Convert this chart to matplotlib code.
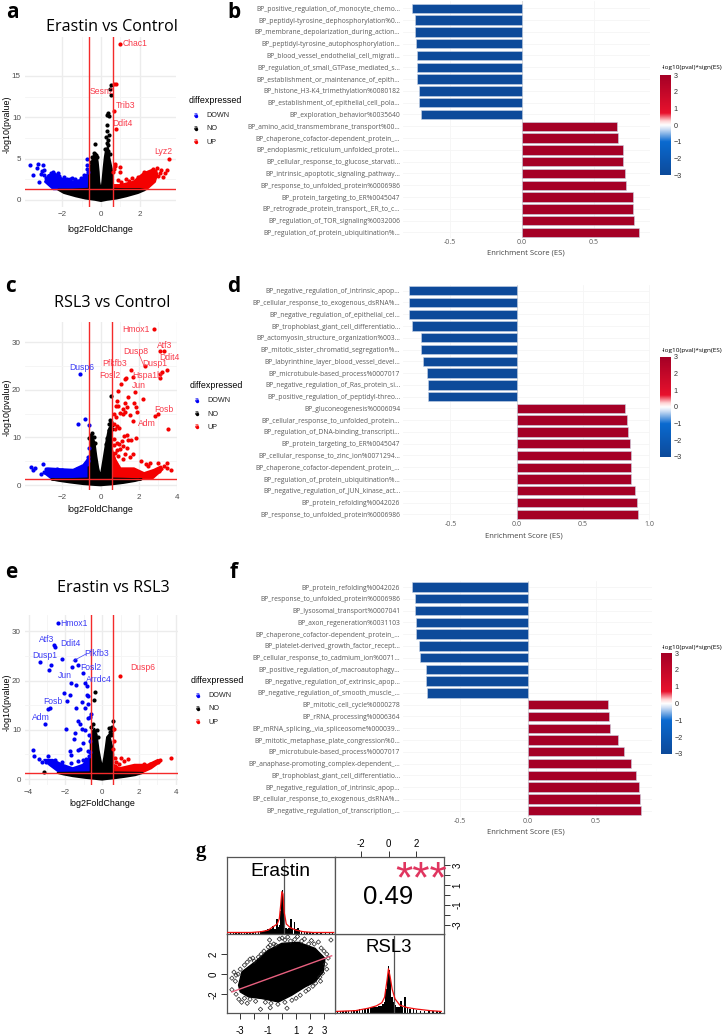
import matplotlib
matplotlib.use("Agg")
import matplotlib.pyplot as plt
from matplotlib.colors import LinearSegmentedColormap, Normalize
import numpy as np

W, H = 724, 1035
RED = "#f42a2a"

# dense point clouds are given as outlines, sparse points one by one
a_no_x = [-2.2,-1.5,-.62,-.6,-.5,-.42,-.35,-.25,-.17,-.12,-.09,-.04,0,.05,.09,.14,.2,.27,.36,.42,.5,.58,.6,.6,1.2,2,2.25,1.9,1.3,.8,.3,0,-.3,-.8,-1.3,-1.9]
a_no_y = [1.25,1.25,1.35,3.2,4.3,5,5.5,5.6,4.6,3.4,2.2,1.6,1.5,1.7,2.6,3.9,5.2,6.2,6.3,5.2,4.3,3.4,2.6,1.35,1.3,1.3,1.2,.85,.45,.18,.02,-.12,.02,.18,.45,.85]
a_down_x = [-2.44,-2.87,-2.7,-2.36,-2.02,-1.59,-1.08,-.65,-.6]
a_down_y = [1.3,2.2,3,3.2,2.6,2.2,2.4,3.2,1.3]
a_up_x = [.6,.6,.97,1.66,2.17,2.68,2.89,2.77,2.34]
a_up_y = [1.3,1.8,1.8,2.2,3.2,3.7,3.2,2.2,1.3]
a_no_pts_x = [-.32,.5,.46,.5,.29,.36,.41,.29,.32,.41,.36,.3,.38,.25,.22,.34,.45,-.38,-.45,-.52,-.2,-.28]
a_no_pts_y = [6.8,13.9,13.4,12.7,10.3,10.5,10.2,9.1,8.3,7.9,7.2,6.9,6.6,7.6,6.2,5.9,5.6,5.7,5.2,4.6,5.2,5.4]
a_down_pts_x = [-3.64,-3.21,-2.96,-3.3,-3.5,-3.16,-2.9,-2.44,-2.19,-1.5,-.74,-.7,-.65,-3.05,-2.95,-2.55,-2.15,-1.75,-1.35,-1.05,-.85,-.7,-3.1,-2.8,-1.9,-1.6]
a_down_pts_y = [4.25,4.3,4.25,3.9,3,2.15,3.6,3.4,3.3,2.7,4.9,4.25,3.4,3.5,3,3.3,2.9,2.5,2.5,2.7,3,3.7,3.1,2.6,2.75,2.5]
a_up_pts_x = [.97,.68,.75,.66,.77,3.5,.72,.97,.72,.65,.97,.62,.88,2.9,2.65,3.1,3.3,3.05,3.4,2.75,2.5,2.3,2.2,2.95,3.2,1.3,1.6,1.05,1.9,2.05,1.45]
a_up_pts_y = [18.8,14,14,10.8,8.6,5,4.4,4,4.1,3.8,3.4,3.4,2.4,3.9,3.8,3.6,3.2,3.3,3.6,3.5,3.4,3.2,3.4,2.9,2.8,2.5,2.6,2.2,2.8,2.5,2.3]

c_no_x = [-2.57,-1.5,-.62,-.62,-.52,-.55,-.46,-.32,-.22,-.12,-.04,0,.04,.12,.22,.3,.42,.55,.6,.6,1.2,2.15,1.8,1.2,.6,.2,0,-.3,-.9,-1.6,-2.2]
c_no_y = [1.2,1.25,1.35,5,7,9.5,10.4,9,6,3.5,2.2,2,2.6,4.5,7,9,11.5,12.5,10,1.35,1.3,1.2,.85,.45,.15,.02,-.05,.02,.2,.55,.9]
c_down_x = [-2.57,-2.93,-2.75,-1.96,-1.43,-.9,-.63,-.6]
c_down_y = [1.4,2.5,3.5,3.3,3.2,4.2,5.6,1.4]
c_up_x = [.6,.6,.78,1.04,1.75,2.28,2.8,3.16,3.25,2.72]
c_up_y = [1.4,7.4,5.3,3.5,3.5,2.5,3.2,3.9,3.3,1.4]
c_no_pts_x = [.53,.5,.55,.45,.6,.58,-.45,-.5,.48,.42,.52,-.58,-.36,-.3,-.4,.35,.28]
c_no_pts_y = [18.8,13.7,13.2,12.9,12.6,11.8,10.9,10.6,12.1,11.5,11.2,9.8,10.2,8.8,8.4,9.8,8.6]
c_down_pts_x = [-1.05,-.79,-1.19,-.61,-.58,-.66,-3.65,-3.42,-3.55,-3,-3.1,-2.85,-2.6,-2.3,-2,-1.55,-1.25,-.85,-.7,-.65,-2.95,-2.75,-.75,-.68]
c_down_pts_y = [23.3,13.9,12.8,12.6,7.8,5.3,3.7,3.5,3.2,4.4,2.3,3.4,3.2,3.3,3.2,3,3.3,3.9,4.5,5,2.8,2.9,4.7,5.9]
c_up_pts_x = [2.79,3.12,3.33,3.46,3.2,3.12,3.12,2.33,1.6,1.32,1.27,1.7,1.09,1.82,.93,1.46,2.23,.88,.82,.92,1.26,1.75,1.18,1.37,1.3,1,1.84,1.9,2.86,3.03,1.53,1.18,.7,.8,3.54,1.7,.7,.85,.95,.75,1.4,1.25,1.45,1.1,.95,1.6,1.85,1.15,1.4,.85,1.3,1.7,1.55,2.1,2.4,2.6,3,3.5,3.3,2.5,3.7,3.5,3.05,2.8,.72,.85,1.0,.68,.78,.9,1.2]
c_up_pts_y = [32.8,28.2,28.2,24.3,23.8,23.3,22.6,25,24.3,22.6,22.3,22.8,21.2,19.6,19.8,18.6,18,17.7,16.7,16.7,17.2,17.2,16,16.4,15.4,15.1,16.4,15.3,14.6,14.9,14.7,14.9,14.9,14.4,11.8,13.5,12.8,12.4,12,11.7,10.6,10.3,9.4,9.2,8.7,9.4,9.9,8.2,7.8,7.4,6.6,6.6,5.8,5,4.4,4.6,4.7,4.7,4,4.1,3.2,3.5,3,3,9.6,8.9,7.6,8.4,6.7,6.1,5.4]

e_no_x = [-2.42,-1.5,-.62,-.62,-.55,-.42,-.3,-.2,-.1,-.04,0,.05,.12,.2,.27,.38,.48,.58,.6,.6,1.5,2.2,1.8,1.2,.6,.2,0,-.3,-.9,-1.6,-2.1]
e_no_y = [1.25,1.3,1.35,8,9.5,10.2,9,6,4,3,2.6,3,4.5,6.5,8.5,9,7.5,6,5,1.35,1.3,1.25,.8,.45,.15,0,-.1,.02,.25,.6,.95]
e_down_x = [-2.33,-2.87,-3.15,-2.69,-2.15,-1.6,-1.05,-.6,-.6]
e_down_y = [1.4,2.9,3.9,3.9,2.9,2.2,2.9,4.6,1.4]
e_up_x = [.6,.6,.95,1.76,2.49,3.04,3.15,2.67,2.2]
e_up_y = [1.4,2.9,2.2,2.9,2.9,3.9,3.5,2.2,1.4]
e_no_pts_x = [-.4,-.44,.6,.55,.37,.46,.55,.5,-.5,-.58,-3.18,.42,.5,-.3,-.2]
e_no_pts_y = [17.6,16,11.8,10.6,10.4,9.2,9.9,10.3,11.2,10.6,1.4,9.6,8.9,10,8.6]
e_down_pts_x = [-2.4,-2.6,-2.55,-2.18,-1.5,-3.38,-2.76,-2.9,-1.64,-1.33,-1.04,-1.69,-1.45,-.95,-.82,-2.09,-1.76,-.85,-.78,-1.9,-1.07,-.78,-1.45,-.91,-2.85,-2.95,-3.09,-1.33,-1.18,-.64,-.6,-.76,-1.95,-1.49,-1.09,-.91,-1.51,-1.04,-1.73,-1.69,-1.33,-1.18,-1.05,-.78,-3.78,-3.69,-3.45,-2.95,-3.25,-3.05,-2.8,-2.55,-2.2,-1.7,-1.3,-.9,-.7,-.64,-.7,-.65]
e_down_pts_y = [31.7,27.3,26.8,24.4,24.1,23.8,23.2,22.2,22.8,23.2,21.6,19.5,19,19.4,18.8,17.5,17.1,17.1,16.8,15.8,15.6,15.2,14.4,14.4,14.4,14.3,11.2,11.8,11.2,12.7,13.2,12.4,10.2,9.4,10.1,9.9,8.1,7.4,5.6,4.8,6,6.2,3.9,5.6,5.9,4.7,4,4.7,3.4,3.5,3.6,3.8,3.4,3.2,3.6,4,4.6,5.4,9,7.8]
e_up_pts_x = [.95,3.76,3.15,.72,1,1.42,1.18,.72,.65,.62,.6,.75,.9,3.05,2.85,2.6,2.3]
e_up_pts_y = [20.9,4.3,3.9,4.2,4.2,4,3.6,2.6,10.1,7.8,6.2,3.4,3.1,3.4,3.2,3.1,3]

labels_b = ["BP_positive_regulation_of_monocyte_chemo...","BP_peptidyl-tyrosine_dephosphorylation%0...","BP_membrane_depolarization_during_action...","BP_peptidyl-tyrosine_autophosphorylation...","BP_blood_vessel_endothelial_cell_migrati...","BP_regulation_of_small_GTPase_mediated_s...","BP_establishment_or_maintenance_of_epith...","BP_histone_H3-K4_trimethylation%0080182","BP_establishment_of_epithelial_cell_pola...","BP_exploration_behavior%0035640","BP_amino_acid_transmembrane_transport%00...","BP_chaperone_cofactor-dependent_protein_...","BP_endoplasmic_reticulum_unfolded_protei...","BP_cellular_response_to_glucose_starvati...","BP_intrinsic_apoptotic_signaling_pathway...","BP_response_to_unfolded_protein%0006986","BP_protein_targeting_to_ER%0045047","BP_retrograde_protein_transport,_ER_to_c...","BP_regulation_of_TOR_signaling%0032006","BP_regulation_of_protein_ubiquitination%..."]
es_b = [-.765,-.749,-.744,-.737,-.735,-.735,-.73,-.719,-.719,-.705,.665,.672,.702,.707,.721,.728,.772,.774,.781,.816]
labels_d = ["BP_negative_regulation_of_intrinsic_apop...","BP_cellular_response_to_exogenous_dsRNA%...","BP_negative_regulation_of_epithelial_cel...","BP_trophoblast_giant_cell_differentiatio...","BP_actomyosin_structure_organization%003...","BP_mitotic_sister_chromatid_segregation%...","BP_labyrinthine_layer_blood_vessel_devel...","BP_microtubule-based_process%0007017","BP_negative_regulation_of_Ras_protein_si...","BP_positive_regulation_of_peptidyl-threo...","BP_gluconeogenesis%0006094","BP_cellular_response_to_unfolded_protein...","BP_regulation_of_DNA-binding_transcripti...","BP_protein_targeting_to_ER%0045047","BP_cellular_response_to_zinc_ion%0071294...","BP_chaperone_cofactor-dependent_protein_...","BP_regulation_of_protein_ubiquitination%...","BP_negative_regulation_of_JUN_kinase_act...","BP_protein_refolding%0042026","BP_response_to_unfolded_protein%0006986"]
es_d = [-.809,-.809,-.809,-.791,-.724,-.724,-.706,-.678,-.671,-.671,.819,.834,.837,.852,.859,.864,.864,.894,.905,.917]
labels_f = ["BP_protein_refolding%0042026","BP_response_to_unfolded_protein%0006986","BP_lysosomal_transport%0007041","BP_axon_regeneration%0031103","BP_chaperone_cofactor-dependent_protein_...","BP_platelet-derived_growth_factor_recept...","BP_cellular_response_to_cadmium_ion%0071...","BP_positive_regulation_of_macroautophagy...","BP_negative_regulation_of_extrinsic_apop...","BP_negative_regulation_of_smooth_muscle_...","BP_mitotic_cell_cycle%0000278","BP_rRNA_processing%0006364","BP_mRNA_splicing,_via_spliceosome%000039...","BP_mitotic_metaphase_plate_congression%0...","BP_microtubule-based_process%0007017","BP_anaphase-promoting_complex-dependent_...","BP_trophoblast_giant_cell_differentiatio...","BP_negative_regulation_of_intrinsic_apop...","BP_cellular_response_to_exogenous_dsRNA%...","BP_negative_regulation_of_transcription_..."]
es_f = [-.85,-.83,-.828,-.826,-.826,-.803,-.794,-.752,-.752,-.744,.587,.597,.604,.663,.705,.759,.794,.816,.826,.83]
score_colors = [-3]*10 + [3]*10

cloud_x = [-3.12,-2.88,-1.93,-.98,-.02,1.17,2.36,3.07,2.95,2.36,1.64,.69,-.26,-1.45,-2.4,-3]
cloud_y = [-1.1,.23,1.23,2.4,3.07,3.17,2.57,1.57,.23,-.77,-1.27,-2.1,-2.77,-2.43,-2.27,-1.77]
edge_x = [-3.6,-3.45,-3.3,-3.15,-3.35,-3.6,-3.3,-3.1,-2.9,-2.7,-3,-2.7,-2.5,-2.3,-2.1,-2,-1.7,-1.5,-1.3,-1,-.85,-.9,-.6,-.45,-.2,0,.2,.4,.6,.9,1.1,1.4,1.6,1.9,2.1,2.3,2.6,2.8,3,3.2,3.5,3.3,3.1,3.2,2.9,2.7,2.75,2.4,2.2,1.9,1.7,1.3,1,.7,.35,.2,-.3,-.85,-1.55,-.8,-1.2,-1.9,-2.3,-2.5]
edge_y = [-.4,.2,-.1,0,-.7,-1.55,-2,-2.5,-2.8,-2.4,.5,.9,1.2,1.5,1.6,1.3,1.7,2,2.3,2.7,2.9,3.4,3,2.9,3.5,3.6,3.4,3.7,3.3,3.45,3.75,3.3,3.5,3,3.35,3,3.2,2.6,2.3,2,3.4,1.6,1,.5,.1,-.3,-.7,-.9,-1.2,-1.5,-1.7,-2.1,-2.4,-2.6,-3.4,-2.8,-3,-3.35,-3.5,-2.9,-2.8,-2.7,-2.5,-2.9]
fit_x = [-3.6,3.55]
fit_y = [-1.77,1.83]

erastin_bins = [-3.7,-3.5,-3.3,-3.1,-2.9,-2.7,-2.5,-2.3,-2.1,-1.9,-1.7,-1.5,-1.4,-1.3,-1.2,-1.1,-1,-.9,-.8,-.64,-.5,-.38,-.28,-.2,-.12,-.05,.02,.1,.18,.28,.4,.5,.62,.75,.88,1,1.12,1.25,1.4,1.6,1.8,2,2.2,2.5,2.8,3.1,3.4,3.6]
erastin_hist = [.025,.025,.02,.02,.02,.02,.02,.02,.02,.025,.03,.035,.04,.04,.05,.05,.06,.06,.06,.11,.07,.2,.09,.12,.3,.5,.57,.42,.18,.08,.07,.08,.2,.08,.15,.06,.08,.05,.04,.03,.03,.025,.02,.02,.02,.02,.025,.025]
erastin_line_x = [-3.9,-2.2,-1.5,-1,-.6,-.35,-.2,-.1,-.02,.06,.15,.3,.6,1,1.5,2.2,3.7]
erastin_line_y = [.02,.02,.03,.05,.1,.13,.2,.38,.55,.52,.28,.13,.08,.05,.03,.02,.02]
erastin_spike_x = .12
rsl3_bins = [-3.7,-3.5,-3.3,-3.1,-2.9,-2.7,-2.5,-2.3,-2.1,-1.9,-1.7,-1.5,-1.3,-1.15,-1,-.85,-.7,-.55,-.42,-.3,-.2,-.1,-.02,.06,.14,.24,.35,.48,.6,.75,.87,1,1.18,1.35,1.55,1.8,2,2.3,2.6,2.9,3.2,3.5,3.7]
rsl3_hist = [.02,.03,.02,.02,.02,.03,.035,.04,.045,.05,.055,.06,.07,.08,.08,.08,.09,.09,.12,.14,.31,.48,.6,.55,.42,.2,.14,.1,.08,.08,.15,.07,.2,.06,.05,.05,.04,.03,.03,.025,.02,.03,.02]
rsl3_line_x = [-3.8,-2.4,-1.5,-.9,-.5,-.3,-.12,-.02,.1,.25,.45,.8,1.3,2,3,3.8]
rsl3_line_y = [.02,.03,.06,.09,.13,.2,.42,.56,.46,.3,.18,.1,.07,.05,.03,.02]
rsl3_spike_x = .38

plt.rcParams["font.family"] = "Liberation Sans"
fig = plt.figure(figsize=(W / 100, H / 100), dpi=100, facecolor="white")

cmap = LinearSegmentedColormap.from_list("es", [(0, "#0d4a9a"), (1/3, "#0a6ad0"), (.46, "#d0e0f5"), (.5, "#ffffff"),
                                                (.54, "#ffd5d5"), (.62, "#e8122d"), (1, "#a50026")])
norm = Normalize(-3, 3)


def px_axes(left, top, right, bottom, **kw):
    return fig.add_axes([left / W, 1 - bottom / H, (right - left) / W, (bottom - top) / H], **kw)


def volcano(box, xlim, ylim, xticks, yticks, no, down, up, no_pts, down_pts, up_pts):
    ax = px_axes(*box)
    ax.set_xlim(*xlim)
    ax.set_ylim(*ylim)
    ax.set_xticks(xticks)
    ax.set_yticks(yticks)
    ax.set_xticks([t + (xticks[1] - xticks[0]) / 2 for t in xticks[:-1]], minor=True)
    ax.set_yticks([t + (yticks[1] - yticks[0]) / 2 for t in yticks[:-1]], minor=True)
    ax.grid(True, which="major", color="#ececec", lw=1.0)
    ax.grid(True, which="minor", color="#f4f4f4", lw=.6)
    ax.set_axisbelow(True)
    ax.tick_params(which="both", length=0, labelsize=5.8, labelcolor="#4d4d4d", pad=3)
    for s in ax.spines.values():
        s.set_visible(False)
    # blue and red first: the black band lies over their lower edge
    for (px, py), c in zip((down, up, no), ("#0000f5", "#f40000", "black")):
        ax.fill(px, py, color=c, lw=1.5, joinstyle="round", zorder=2)
    for (px, py), c in zip((no_pts, down_pts, up_pts), ("black", "#0000f5", "#f40000")):
        ax.scatter(px, py, s=9, color=c, lw=0, zorder=3)
    ax.axvline(-.6, color=RED, lw=1, zorder=4)
    ax.axvline(.6, color=RED, lw=1, zorder=4)
    ax.axhline(1.3, color=RED, lw=1, zorder=4)
    return ax


volcano((25, 37, 176, 207), (-3.9, 3.85), (-.85, 19.7), [-2, 0, 2], [0, 5, 10, 15],
        (a_no_x, a_no_y), (a_down_x, a_down_y), (a_up_x, a_up_y),
        (a_no_pts_x, a_no_pts_y), (a_down_pts_x, a_down_pts_y), (a_up_pts_x, a_up_pts_y))
volcano((25, 322, 177, 490), (-3.95, 4.0), (-1.05, 34.3), [-2, 0, 2, 4], [0, 10, 20, 30],
        (c_no_x, c_no_y), (c_down_x, c_down_y), (c_up_x, c_up_y),
        (c_no_pts_x, c_no_pts_y), (c_down_pts_x, c_down_pts_y), (c_up_pts_x, c_up_pts_y))
volcano((25, 615, 178, 785), (-4.2, 4.13), (-1.2, 33.3), [-4, -2, 0, 2, 4], [0, 10, 20, 30],
        (e_no_x, e_no_y), (e_down_x, e_down_y), (e_up_x, e_up_y),
        (e_no_pts_x, e_no_pts_y), (e_down_pts_x, e_down_pts_y), (e_up_pts_x, e_up_pts_y))


def es_bars(box, xlim, xticks, labels, values, bar_top, bar_step, cbar_box):
    ax = px_axes(*box)
    n = len(values)
    y = np.arange(n)
    ax.set_xlim(*xlim)
    top = (box[1] - bar_top) / bar_step
    ax.set_ylim(top + (box[3] - box[1]) / bar_step, top)
    ax.barh(y, values, height=.8, color=[cmap(norm(v)) for v in score_colors],
            edgecolor="#c9d4e6", lw=.4, zorder=3)
    ax.axvline(0, color="#dddddd", lw=.8, zorder=2)
    ax.set_yticks(y)
    ax.set_yticklabels(labels, fontsize=4.85, color="#5a5a5a", family="Open Sans")
    ax.set_xticks(xticks)
    ax.set_xticklabels([("%.1f" % t) for t in xticks], fontsize=5, color="#5a5a5a", family="Open Sans")
    ax.tick_params(length=0, pad=2)
    ax.tick_params(axis="x", pad=.5)
    ax.grid(True, color="#f5f5f5", lw=.6)
    ax.set_axisbelow(True)
    for s in ax.spines.values():
        s.set_visible(False)
    cax = px_axes(*cbar_box)
    cax.imshow(np.linspace(3, -3, 256).reshape(-1, 1), cmap=cmap, norm=norm, aspect="auto", extent=(0, 1, -3, 3))
    cax.set_xticks([])
    cax.yaxis.tick_right()
    cax.set_yticks([3, 2, 1, 0, -1, -2, -3])
    cax.tick_params(length=0, labelsize=5.2, labelcolor="#333333", pad=2)
    for s in cax.spines.values():
        s.set_visible(False)
    return ax


es_bars((403, 1, 650, 238), (-.83, .893), [-.5, 0, .5], labels_b, es_b, 8.3, 11.8, (660, 75, 671, 175))
es_bars((403, 285, 650, 520), (-.857, 1.005), [-.5, 0, .5, 1.0], labels_d, es_d, 290.7, 11.77, (660, 357, 671, 457))
es_bars((403, 581, 652, 817), (-.919, .913), [-.5, 0, .5], labels_f, es_f, 587, 11.77, (661, 653, 672, 754))


# panel g
def hist_panel(box, xlim, bins, hist, line_x, line_y, spike):
    ax = px_axes(*box)
    ax.set_xlim(*xlim)
    ax.set_ylim(0, 1)
    ax.bar(bins, hist, width=.11, color="black", zorder=2)
    ax.plot([spike, spike], [0, .97], color="#555555", lw=.9, zorder=3)
    ax.plot(line_x, line_y, color="#f01010", lw=.9, zorder=4)
    ax.set_xticks([])
    ax.set_yticks([])
    for s in ax.spines.values():
        s.set_color("#555555")
        s.set_linewidth(.9)
    return ax


hist_panel((227, 857, 335, 934), (-3.95, 3.79), erastin_bins, erastin_hist, erastin_line_x, erastin_line_y, erastin_spike_x)
hist_panel((335, 934, 444, 1013), (-3.89, 4.0), rsl3_bins, rsl3_hist, rsl3_line_x, rsl3_line_y, rsl3_spike_x)

sc = px_axes(227, 934, 335, 1013)
sc.set_xlim(-3.95, 3.79)
sc.set_ylim(-3.87, 4)
sc.fill(cloud_x, cloud_y, color="black", zorder=2)
sc.scatter(edge_x, edge_y, s=5, marker="D", facecolors="none", edgecolors="#222222", lw=.5, zorder=3)
sc.plot(fit_x, fit_y, color="#e8607f", lw=1, zorder=4)
sc.set_xticks([-3, -2, -1, 0, 1, 2, 3])
sc.set_xticklabels(["-3", "", "-1", "", "1", "2", "3"], fontsize=7)
sc.set_yticks([-2, 0, 2])
sc.set_yticklabels(["-2", "0", "2"], fontsize=7, rotation=90, va="center")
sc.tick_params(length=4, width=.7, color="#333333", pad=2)
sc.tick_params(axis="x", pad=5)
for s in sc.spines.values():
    s.set_color("#555555")
    s.set_linewidth(.9)

tr = px_axes(335, 857, 444, 934)
tr.set_xlim(-3.89, 4.0)
tr.set_ylim(-3.9, 3.8)
tr.xaxis.tick_top()
tr.yaxis.tick_right()
tr.set_xticks([-2, 0, 2])
tr.set_xticklabels(["-2", "0", "2"], fontsize=7)
tr.set_yticks([-3, -2, -1, 0, 1, 2, 3])
tr.set_yticklabels(["-3", "", "-1", "", "1", "", "3"], fontsize=7, rotation=90, va="center")
tr.tick_params(length=4, width=.7, color="#333333", pad=2)
for s in tr.spines.values():
    s.set_color("#555555")
    s.set_linewidth(.9)

# everything placed in picture pixels
ov = fig.add_axes([0, 0, 1, 1], zorder=10)
ov.set_xlim(0, W)
ov.set_ylim(H, 0)
ov.axis("off")
ov.patch.set_alpha(0)


def put(x, y, s, size=6, color="black", ha="center", va="center", **kw):
    ov.text(x, y, s, fontsize=size, color=color, ha=ha, va=va, **kw)


for x, y, s in [(12, 12, "a"), (234, 12, "b"), (11, 287, "c"), (234, 286, "d"), (11, 573, "e"), (234, 573, "f")]:
    put(x, y, s, 15, weight="bold", family="Open Sans")
put(201, 851, "g", 15, weight="bold", family="Liberation Serif")

for x, y, s in [(112, 27, "Erastin vs Control"), (112, 303, "RSL3 vs Control"), (113, 588, "Erastin vs RSL3")]:
    put(x, y, s, 11.6, family="Open Sans")

for x, ylab_y, xlab_y, leg_x, leg_y in [(100, 124, 229, 189, 100.7), (100, 407, 509, 190, 385.7), (102, 702, 804, 191, 680.7)]:
    put(7, ylab_y, "-log10(pvalue)", 6.4, rotation=90)
    put(x, xlab_y, "log2FoldChange", 6.4)
    put(leg_x, leg_y, "diffexpressed", 6.4, ha="left")
    for i, (s, c) in enumerate([("DOWN", "#0000f5"), ("NO", "black"), ("UP", "#f40000")]):
        yy = leg_y + 15 + i * 13.3
        ov.scatter([leg_x + 6.5], [yy], s=6, color=c, lw=0)
        put(leg_x + 6.5, yy - .5, "a", 5.2, color=c)
        put(leg_x + 17.5, yy, s, 5.2, color="#222222", ha="left")

RED_T = "#f93a4a"
BLUE_T = "#3c3cf5"
for x, y, s in [(135, 44, "Chac1"), (102, 92, "Sesn2"), (126, 105, "Trib3"), (122, 123, "Ddit4"), (163, 152, "Lyz2"),
                (136, 329, "Hmox1"), (165, 345, "Atf3"), (136, 351, "Dusp8"), (169, 358, "Ddit4"), (155, 363, "Dusp1"),
                (115, 363, "Pfkfb3"), (110, 376, "Fosl2"), (147, 375, "Hspa1b"), (139, 385, "Jun"), (164, 409, "Fosb"), (147, 424, "Adm"),
                (143, 668, "Dusp6")]:
    put(x, y, s, 6.2, color=RED_T)
for x, y, s in [(82, 368, "Dusp6"), (74, 623, "Hmox1"), (47, 639, "Atf3"), (70, 643, "Ddit4"), (45, 656, "Dusp1"),
                (97, 654, "Pfkfb3"), (91, 667, "Fosl2"), (65, 675, "Jun"), (99, 680, "Arrdc4"), (53, 701, "Fosb"), (41, 717, "Adm")]:
    put(x, y, s, 6.2, color=BLUE_T)
ov.plot([139, 144], [354, 366], color=RED_T, lw=.5)
ov.plot([73, 86], [661, 654], color=BLUE_T, lw=.5)

for x, y in [(692, 68), (692, 350.7), (692, 647)]:
    put(x, y, "-log10(pval)*sign(ES)", 4.6, family="Open Sans")
put(526, 253, "Enrichment Score (ES)", 5.5, color="#444444", family="Open Sans")
put(524, 535.7, "Enrichment Score (ES)", 5.5, color="#444444", family="Open Sans")
put(526, 832, "Enrichment Score (ES)", 5.5, color="#444444", family="Open Sans")

put(280, 871, "Erastin", 13.9)
put(388, 897, "0.49", 18.5)
put(389, 948, "RSL3", 13.4)
put(421, 881, "***", 32, color="#e0355f")

fig.savefig("out.png", dpi=100)
